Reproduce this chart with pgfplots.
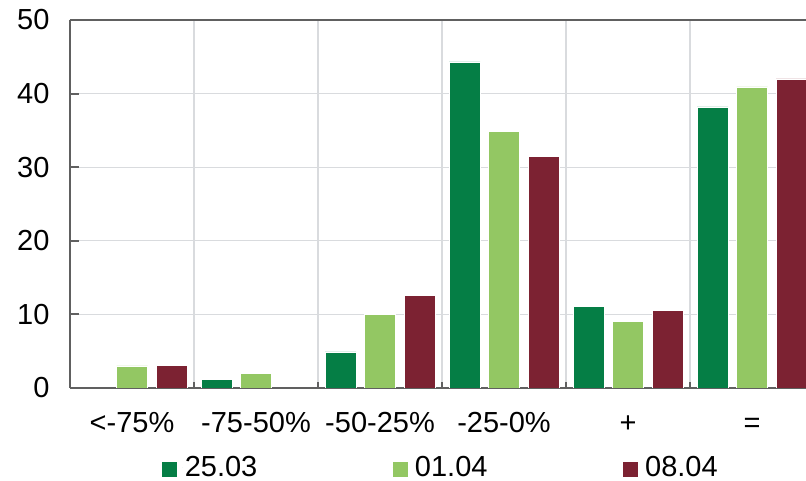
\documentclass[border=0pt]{standalone}
\usepackage{pgfplots}
\pgfplotsset{compat=1.18}
\usepackage{fontspec}
\setmainfont{Liberation Sans}
\definecolor{dg}{RGB}{5,126,69}
\definecolor{lg}{RGB}{147,199,99}
\definecolor{mr}{RGB}{124,34,50}
\definecolor{axc}{RGB}{96,96,96}
\definecolor{grc}{RGB}{217,219,222}
\pgfplotsset{sqleg/.style={legend image code/.code={\path (0pt,0pt) -- (20pt,0pt);\fill[##1,draw=none] (0pt,-9.5pt) rectangle (15pt,5.5pt);}}}
\begin{document}
\begin{tikzpicture}
\begin{axis}[
  at={(0pt,0pt)}, anchor=south west,
  scale only axis, width=736pt, height=368pt,
  xmin=-0.5, xmax=5.435, ymin=0, ymax=50,
  ybar=8.5pt, bar width=31pt,
  axis x line*=box, axis y line*=left,
  axis line style={axc, line width=2pt},
  xtick={0,1,2,3,4,5},
  xticklabels={{<-75\%},{-75-50\%},{-50-25\%},{-25-0\%},{+},{=}},
  xtick pos=lower, ytick pos=left,
  major x tick style={draw=none},
  minor xtick={0.5,1.5,2.5,3.5,4.5},
  minor x tick style={axc, line width=1.5pt},
  minor tick length=6pt,
  major tick length=9pt,
  tick align=inside,
  y tick style={axc, line width=2pt},
  xminorgrids, ymajorgrids,
  grid style={grc, line width=1.2pt},
  minor grid style={grc, line width=1.2pt},
  ytick={0,10,20,30,40,50},
  tick label style={font=\fontsize{29}{33}\selectfont},
  /pgf/number format/assume math mode=true,
  yticklabel style={xshift=-17pt},
  xticklabel style={text height=20pt, text depth=6pt, yshift=-21pt},
  legend columns=3,
  legend style={at={(0.125,-0.2147)}, anchor=west, draw=none, fill=none,
    font=\fontsize{29}{33}\selectfont, inner sep=0pt,
    /tikz/every even column/.append style={column sep=133pt}},
]
\addplot[fill=dg, draw=white, line width=0.6pt, sqleg]
  coordinates {(1,1.2) (2,4.9) (3,44.3) (4,11.1) (5,38.2)};
\addplot[fill=lg, draw=white, line width=0.6pt, sqleg]
  coordinates {(0,3.0) (1,2.0) (2,10.0) (3,34.9) (4,9.0) (5,40.9)};
\addplot[fill=mr, draw=white, line width=0.6pt, sqleg]
  coordinates {(0,3.1) (2,12.6) (3,31.5) (4,10.5) (5,42.0)};
\legend{25.03,01.04,08.04}
\end{axis}
\pgfresetboundingbox
\useasboundingbox (-70pt,-93pt) rectangle (736pt,388pt);
\end{tikzpicture}
\end{document}
